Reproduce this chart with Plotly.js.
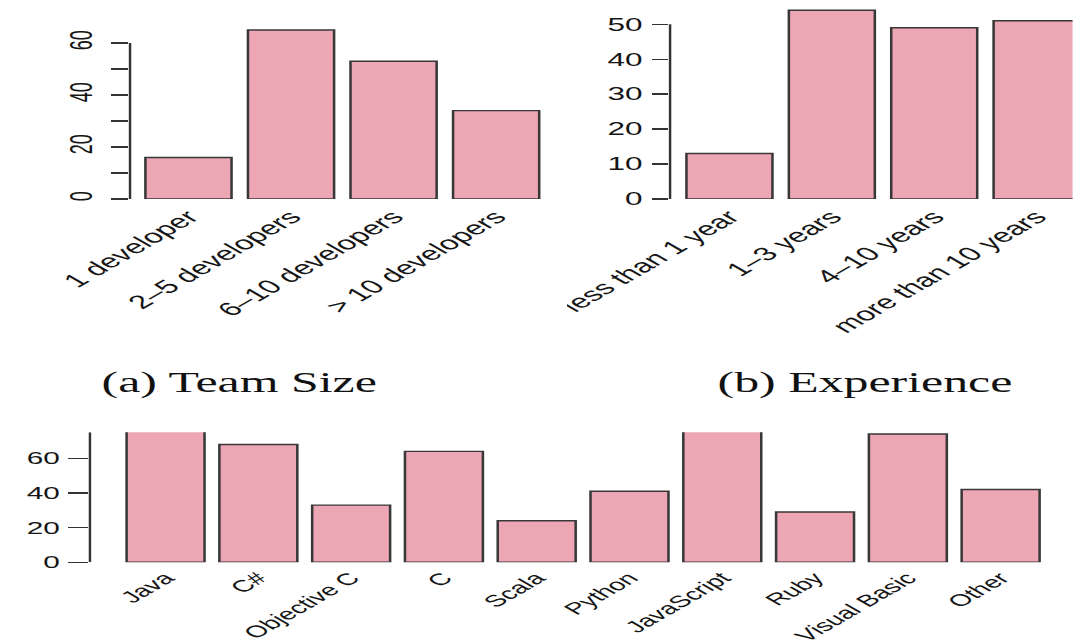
<!DOCTYPE html>
<html>
<head>
<meta charset="utf-8">
<script src="https://cdn.plot.ly/plotly-3.0.1.min.js"></script>
<style>
  html, body { margin: 0; padding: 0; background: #fff; overflow: hidden; }
  /* the reference figure is horizontally stretched; draw at natural width and stretch */
  #chart { width: 613px; height: 644px; transform: scaleX(1.75); transform-origin: 0 0; }
</style>
</head>
<body>
<div id="chart"></div>
<script>
// ---- data ----
const teamSizeLabels = ["1 developer", "2\u20135 developers", "6\u201310 developers", "> 10 developers"];
const teamSizeCounts = [16, 65, 53, 34];

const experienceLabels = ["less than 1 year", "1\u20133 years", "4\u201310 years", "more than 10 years"];
const experienceCounts = [13, 54, 49, 51];

const languageLabels = ["Java", "C#", "Objective C", "C", "Scala", "Python", "JavaScript", "Ruby", "Visual Basic", "Other"];
const languageCounts = [95, 68, 33, 64, 24, 41, 92, 29, 74, 42];

const captionA = "(a) Team Size";
const captionB = "(b) Experience";

// ---- styling / geometry ----
const S = 1.75;            // horizontal stretch of the reference figure
const W = 613, H = 644;    // natural (unstretched) drawing size
const px = v => v / W;
const py = v => 1 - v / H;
const barFill = "#eca6b4";
const barLine = "#383838";
const axisCol = "#333333";
const textCol = "#151515";
const sans = "Liberation Sans, Arial, Helvetica, sans-serif";
const serif = "Liberation Serif, Times New Roman, serif";

function barTrace(x, y, xa, ya) {
  return {
    type: "bar", x: x, y: y, xaxis: xa, yaxis: ya,
    marker: { color: barFill, line: { color: barLine, width: 1.45 } },
    hoverinfo: "skip", showlegend: false
  };
}

const data = [
  barTrace(teamSizeLabels, teamSizeCounts, "x", "y"),
  barTrace(experienceLabels, experienceCounts, "x2", "y2"),
  barTrace(languageLabels, languageCounts, "x3", "y3")
];

function xAxis(domain, range, anchor, size) {
  return {
    type: "category", domain: domain, range: range, anchor: anchor,
    showline: false, showgrid: false, zeroline: false, ticks: "",
    tickangle: -45, tickfont: { family: sans, size: size, color: textCol },
    ticklabelstandoff: 2, fixedrange: true
  };
}
function yAxis(domain, range, anchor, extra) {
  return Object.assign({
    domain: domain, range: range, anchor: anchor,
    showline: false, showgrid: false, zeroline: false,
    ticks: "outside", tickcolor: axisCol, tickwidth: 1.4,
    fixedrange: true
  }, extra);
}

const layout = {
  width: W, height: H,
  margin: { l: 0, r: 0, t: 0, b: 0 },
  paper_bgcolor: "#ffffff", plot_bgcolor: "rgba(0,0,0,0)",
  bargap: 0.16,
  showlegend: false,
  xaxis: xAxis([px(74.3), px(312.8)], [-0.57, 3.5], "y", 19),
  yaxis: yAxis([py(199), py(27.4)], [0, 66], "x", {
    dtick: 20, tick0: 0, ticklen: 9.7, tickangle: -90, ticklabelstandoff: 4,
    tickfont: { family: sans, size: 18, color: textCol },
    minor: { dtick: 10, tick0: 0, ticks: "outside", ticklen: 9.7, tickcolor: axisCol, tickwidth: 1.4, showgrid: false }
  }),
  xaxis2: xAxis([px(382.9), 1], [-0.58, 3.353], "y2", 19),
  yaxis2: yAxis([py(199), py(3.3)], [0, 56], "x2", {
    dtick: 10, tick0: 0, ticklen: 9.1, ticklabelstandoff: 2,
    tickfont: { family: sans, size: 18, color: textCol }
  }),
  xaxis3: xAxis([px(51.4), px(603.6)], [-0.815, 9.6], "y3", 16.5),
  yaxis3: yAxis([py(562.3), py(432.3)], [0, 75], "x3", {
    dtick: 20, tick0: 0, ticklen: 11.8, ticklabelstandoff: 1,
    tickfont: { family: sans, size: 17, color: textCol }
  }),
  shapes: [
    { type: "line", xref: "paper", yref: "y", x0: px(74.3), x1: px(74.3), y0: 0, y1: 60, line: { color: axisCol, width: 1.4 } },
    { type: "line", xref: "paper", yref: "y2", x0: px(382.9), x1: px(382.9), y0: 0, y1: 50, line: { color: axisCol, width: 1.4 } },
    { type: "line", xref: "paper", yref: "y3", x0: px(51.4), x1: px(51.4), y0: 0, y1: 75, line: { color: axisCol, width: 1.4 } },
    // white mask: the reference is cropped just left of the (b) panel
    { type: "rect", layer: "above", xref: "paper", yref: "paper", x0: px(542 / S), x1: px(567 / S), y0: py(345), y1: py(285), fillcolor: "#ffffff", line: { width: 0 } }
  ],
  annotations: [
    { text: captionA, xref: "paper", yref: "paper", x: px(238 / S), y: py(383), xanchor: "center", yanchor: "middle", showarrow: false, font: { family: serif, size: 28.5, color: "#111" } },
    { text: captionB, xref: "paper", yref: "paper", x: px(865 / S), y: py(383), xanchor: "center", yanchor: "middle", showarrow: false, font: { family: serif, size: 28.5, color: "#111" } }
  ]
};

Plotly.newPlot("chart", data, layout, { staticPlot: true, displayModeBar: false });
</script>
</body>
</html>
